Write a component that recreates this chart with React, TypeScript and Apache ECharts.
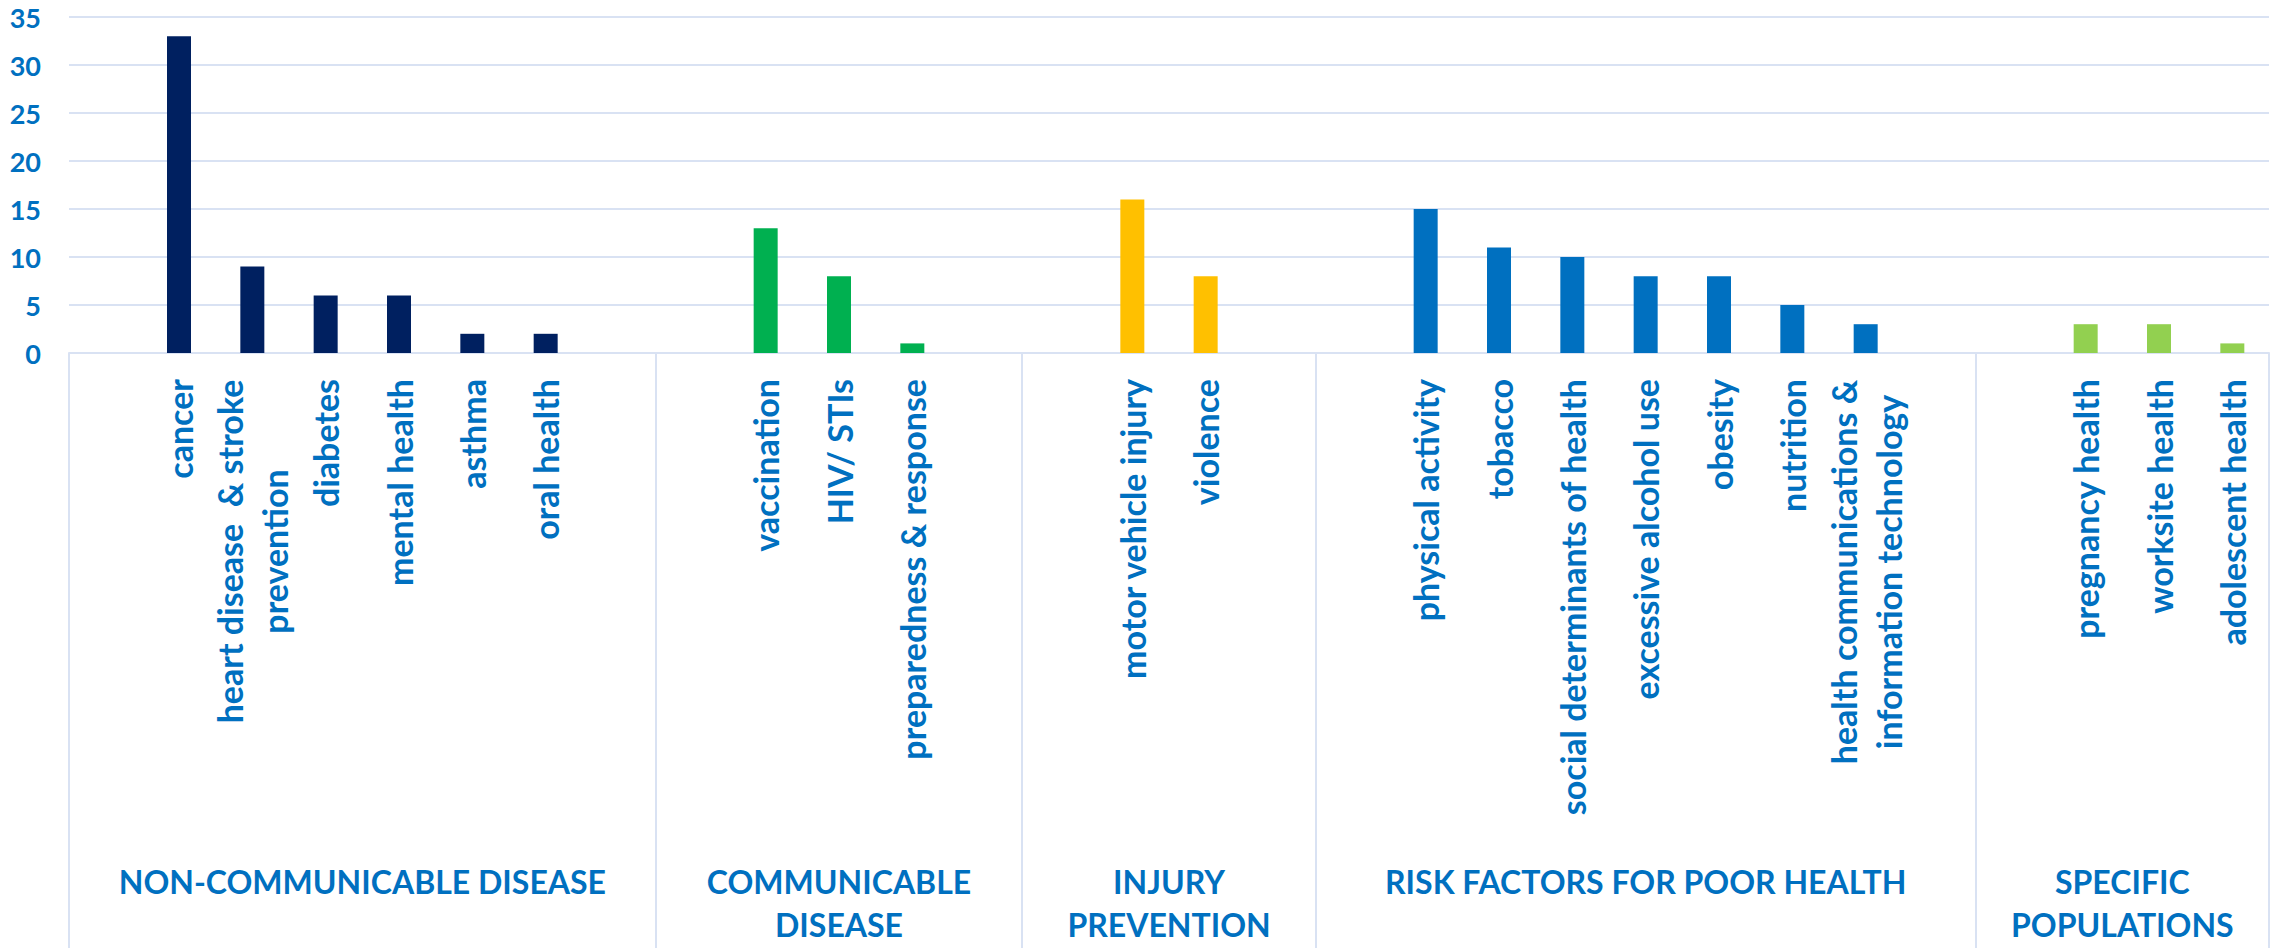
import React, { useEffect, useRef } from 'react';
import * as echarts from 'echarts';

// ---- data ----
const groupNames = [
  'NON-COMMUNICABLE DISEASE',
  'COMMUNICABLE\nDISEASE',
  'INJURY\nPREVENTION',
  'RISK FACTORS FOR POOR HEALTH',
  'SPECIFIC\nPOPULATIONS',
];
const groupColors = ['#002060', '#00B050', '#FFC000', '#0070C0', '#92D050'];

const ncdLabels = ['cancer', 'heart disease  & stroke\nprevention', 'diabetes', 'mental health', 'asthma', 'oral health'];
const ncdValues = [33, 9, 6, 6, 2, 2];
const cdLabels = ['vaccination', 'HIV/ STIs', 'preparedness & response'];
const cdValues = [13, 8, 1];
const ipLabels = ['motor vehicle injury', 'violence'];
const ipValues = [16, 8];
const rfLabels = [
  'physical activity',
  'tobacco',
  'social determinants of health',
  'excessive alcohol use',
  'obesity',
  'nutrition',
  'health communications &\ninformation technology',
];
const rfValues = [15, 11, 10, 8, 8, 5, 3];
const spLabels = ['pregnancy health', 'worksite health', 'adolescent health'];
const spValues = [3, 3, 1];

// empty category slots before / after each group
const blanksBefore = [1, 1, 1, 1, 1];
const blanksAfter = [1, 1, 1, 1, 0];

const yMin = 0;
const yMax = 35;
const yInterval = 5;

// ---- style ----
const TEXT_BLUE = '#0070C0';
const GRID_COLOR = '#D9E2F3';
const FONT = 'Lato';
const CAT_FONT_SIZE = 34;
const CAT_LINE_HEIGHT = 45;
const GROUP_FONT_SIZE = 32;
const GROUP_LINE_HEIGHT = 43;
const Y_FONT_SIZE = 27;

const W = 2275;
const H = 948;

export default function App() {
  const ref = useRef<HTMLDivElement>(null);

  useEffect(() => {
    if (!ref.current) return;
    const chart = echarts.init(ref.current, undefined, { renderer: 'svg' });

    const groupLabels = [ncdLabels, cdLabels, ipLabels, rfLabels, spLabels];
    const groupValues = [ncdValues, cdValues, ipValues, rfValues, spValues];

    const categories: string[] = [];
    const data: any[] = [];
    const blankSet = new Set<string>();
    const bounds: [number, number][] = [];
    let blankId = 0;
    groupLabels.forEach((labels, g) => {
      const start = categories.length;
      for (let i = 0; i < blanksBefore[g]; i++) {
        const n = `__blank${blankId++}`;
        blankSet.add(n);
        categories.push(n);
        data.push(null);
      }
      labels.forEach((lab, i) => {
        categories.push(lab);
        data.push({ value: groupValues[g][i], itemStyle: { color: groupColors[g] } });
      });
      for (let i = 0; i < blanksAfter[g]; i++) {
        const n = `__blank${blankId++}`;
        blankSet.add(n);
        categories.push(n);
        data.push(null);
      }
      bounds.push([start, categories.length]);
    });

    // measure multi-line labels so the lines can be centred on each other
    const canvas = document.createElement('canvas');
    const ctx = canvas.getContext('2d')!;
    ctx.font = `bold ${CAT_FONT_SIZE}px ${FONT}`;
    const rich: Record<string, any> = {};
    const richKey: Record<string, string> = {};
    let k = 0;
    categories.forEach((c) => {
      if (c.includes('\n')) {
        const w = Math.max(...c.split('\n').map((l) => ctx.measureText(l).width));
        const key = `m${k++}`;
        richKey[c] = key;
        rich[key] = {
          width: Math.ceil(w) + 1,
          align: 'center',
          fontSize: CAT_FONT_SIZE,
          fontFamily: FONT,
          fontWeight: 'bold',
          color: TEXT_BLUE,
          lineHeight: CAT_LINE_HEIGHT,
        };
      }
    });

    chart.setOption({
      animation: false,
      backgroundColor: '#ffffff',
      grid: { left: 69, right: 6, top: 17, bottom: 595, containLabel: false },
      xAxis: {
        type: 'category',
        data: categories,
        axisLine: { show: true, lineStyle: { color: GRID_COLOR, width: 2 } },
        axisTick: { show: false },
        axisLabel: {
          interval: 0,
          rotate: 90,
          margin: 26,
          color: TEXT_BLUE,
          fontFamily: FONT,
          fontWeight: 'bold',
          fontSize: CAT_FONT_SIZE,
          lineHeight: CAT_LINE_HEIGHT,
          rich,
          formatter: (v: string) => {
            if (blankSet.has(v)) return '';
            if (richKey[v]) {
              const key = richKey[v];
              return v
                .split('\n')
                .map((l) => `{${key}|${l}}`)
                .join('\n');
            }
            return v;
          },
        },
      },
      yAxis: {
        type: 'value',
        min: yMin,
        max: yMax,
        interval: yInterval,
        axisLine: { show: false },
        axisTick: { show: false },
        splitLine: { show: true, lineStyle: { color: GRID_COLOR, width: 2 } },
        axisLabel: {
          margin: 28,
          color: TEXT_BLUE,
          fontFamily: FONT,
          fontWeight: 'bold',
          fontSize: Y_FONT_SIZE,
        },
      },
      series: [
        {
          type: 'bar',
          data,
          barWidth: 24,
        },
      ],
    });

    const px = (i: number) => chart.convertToPixel({ xAxisIndex: 0 }, categories[i]) as number;
    const bw = px(1) - px(0);
    const boundary = (i: number) => (i < categories.length ? px(i) - bw / 2 : px(categories.length - 1) + bw / 2);
    const y0 = chart.convertToPixel({ yAxisIndex: 0 }, 0) as number;

    const graphics: any[] = [];
    const edges = new Set<number>();
    bounds.forEach(([s, e]) => {
      edges.add(s);
      edges.add(e);
    });
    Array.from(edges).forEach((i) => {
      const x = Math.round(boundary(i));
      graphics.push({
        type: 'line',
        shape: { x1: x, y1: y0, x2: x, y2: H },
        style: { stroke: GRID_COLOR, lineWidth: 2 },
        silent: true,
      });
    });
    bounds.forEach(([s, e], g) => {
      const cx = (boundary(s) + boundary(e)) / 2;
      graphics.push({
        type: 'text',
        x: cx,
        y: 881 - GROUP_LINE_HEIGHT / 2,
        style: {
          text: groupNames[g],
          fill: TEXT_BLUE,
          fontFamily: FONT,
          fontWeight: 'bold',
          fontSize: GROUP_FONT_SIZE,
          lineHeight: GROUP_LINE_HEIGHT,
          align: 'center',
          verticalAlign: 'top',
        },
        silent: true,
      });
    });
    chart.setOption({ graphic: graphics });

    return () => chart.dispose();
  }, []);

  return (
    <div
      ref={ref}
      style={{ position: 'fixed', left: 0, top: 0, width: W, height: H, background: '#ffffff' }}
    />
  );
}
